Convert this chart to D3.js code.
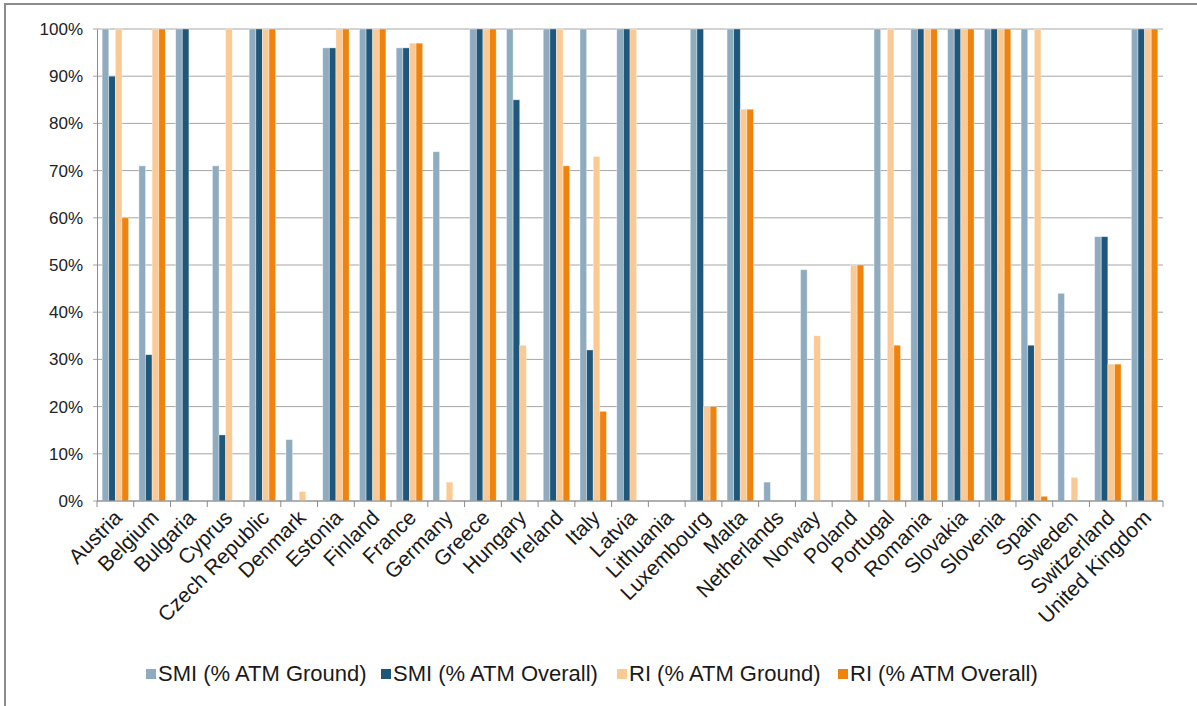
<!DOCTYPE html>
<html>
<head>
<meta charset="utf-8">
<script src="https://cdn.jsdelivr.net/npm/d3@7"></script>
<style>
  html, body { margin: 0; padding: 0; background: #fff; }
  svg { display: block; font-family: "Liberation Sans", Arial, sans-serif; }
</style>
</head>
<body>
<svg id="chart" width="1197" height="706"></svg>
<script>
// Countries shown on the x axis
const countries = ["Austria", "Belgium", "Bulgaria", "Cyprus", "Czech Republic", "Denmark",
  "Estonia", "Finland", "France", "Germany", "Greece", "Hungary", "Ireland", "Italy",
  "Latvia", "Lithuania", "Luxembourg", "Malta", "Netherlands", "Norway", "Poland",
  "Portugal", "Romania", "Slovakia", "Slovenia", "Spain", "Sweden", "Switzerland",
  "United Kingdom"];

// Series names (legend order)
const seriesNames = ["SMI (% ATM Ground)", "SMI (% ATM Overall)", "RI (% ATM Ground)", "RI (% ATM Overall)"];

// Values in percent, one entry per country
const smiGround  = [100, 71, 100, 71, 100, 13, 96, 100, 96, 74, 100, 100, 100, 100, 100, 0, 100, 100, 4, 49, 0, 100, 100, 100, 100, 100, 44, 56, 100];
const smiOverall = [90, 31, 100, 14, 100, 0, 96, 100, 96, 0, 100, 85, 100, 32, 100, 0, 100, 100, 0, 0, 0, 0, 100, 100, 100, 33, 0, 56, 100];
const riGround   = [100, 100, 0, 100, 100, 2, 100, 100, 97, 4, 100, 33, 100, 73, 100, 0, 20, 83, 0, 35, 50, 100, 100, 100, 100, 100, 5, 29, 100];
const riOverall  = [60, 100, 0, 0, 100, 0, 100, 100, 97, 0, 100, 0, 71, 19, 0, 0, 20, 83, 0, 0, 50, 33, 100, 100, 100, 1, 0, 29, 100];

// Y axis ticks
const yTicks = [0, 10, 20, 30, 40, 50, 60, 70, 80, 90, 100];

const colors = ["#8eabbf", "#1f577a", "#fbc994", "#f0820e"];
const seriesValues = [smiGround, smiOverall, riGround, riOverall];

const svg = d3.select("#chart");
const margin = { left: 97, right: 34, top: 29, bottom: 205 };
const W = 1197, H = 706;
const plotW = W - margin.left - margin.right;
const plotH = H - margin.top - margin.bottom;

// Outer frame (top and left edges visible)
svg.append("rect")
  .attr("x", 5).attr("y", 4)
  .attr("width", W + 10).attr("height", H + 10)
  .attr("fill", "none").attr("stroke", "#8c8c8c").attr("stroke-width", 2);

const g = svg.append("g").attr("transform", `translate(${margin.left},${margin.top})`);

const x = d3.scaleBand().domain(countries).range([0, plotW]).paddingInner(0).paddingOuter(0);
const x1 = d3.scaleBand().domain(seriesNames).range([0, x.bandwidth()]).paddingInner(0).paddingOuter(0.78);
const y = d3.scaleLinear().domain([0, 100]).range([plotH, 0]);

// Gridlines
g.append("g")
  .selectAll("line")
  .data(yTicks)
  .join("line")
  .attr("x1", -4).attr("x2", plotW)
  .attr("y1", d => y(d)).attr("y2", d => y(d))
  .attr("stroke", "#a6a6a6").attr("stroke-width", 1);

// Y axis labels
const yAxis = g.append("g").call(d3.axisLeft(y).tickValues(yTicks).tickFormat(d => d + "%").tickSize(0).tickPadding(14));
yAxis.select(".domain").attr("stroke", "#8c8c8c");
yAxis.selectAll("text").attr("font-size", 17).attr("fill", "#222").attr("font-family", "Liberation Sans, Arial, sans-serif");

// Bars
const groups = g.append("g").selectAll("g")
  .data(countries)
  .join("g")
  .attr("transform", d => `translate(${x(d)},0)`);

groups.selectAll("rect")
  .data((c, i) => seriesNames.map((s, k) => ({ s, k, v: seriesValues[k][i] })))
  .join("rect")
  .filter(d => d.v > 0)
  .attr("x", d => x1(d.s))
  .attr("y", d => y(d.v))
  .attr("width", x1.bandwidth())
  .attr("height", d => y(0) - y(d.v))
  .attr("fill", d => colors[d.k])
  .attr("stroke", "rgba(255,255,255,0.45)")
  .attr("stroke-width", 0.8);

// X axis
const xAxisG = g.append("g").attr("transform", `translate(0,${plotH})`);
xAxisG.append("line")
  .attr("x1", 0).attr("x2", plotW).attr("y1", 0).attr("y2", 0)
  .attr("stroke", "#8c8c8c").attr("stroke-width", 1);
xAxisG.selectAll("line.tick")
  .data(countries.concat(["__end"]))
  .join("line")
  .attr("class", "tick")
  .attr("x1", (d, i) => i * x.bandwidth()).attr("x2", (d, i) => i * x.bandwidth())
  .attr("y1", 0).attr("y2", 6)
  .attr("stroke", "#8c8c8c");

xAxisG.selectAll("text")
  .data(countries)
  .join("text")
  .attr("transform", d => `translate(${x(d) + x.bandwidth() / 2 + 8},${18}) rotate(-45)`)
  .attr("text-anchor", "end")
  .attr("font-size", 21)
  .attr("fill", "#1a1a1a")
  .text(d => d);

// Legend
const legendX = [146, 381, 617, 838];
const legend = svg.append("g").selectAll("g")
  .data(seriesNames)
  .join("g")
  .attr("transform", (d, i) => `translate(${legendX[i]},669)`);
legend.append("rect")
  .attr("width", 10).attr("height", 10)
  .attr("fill", (d, i) => colors[i]);
legend.append("text")
  .attr("x", 12).attr("y", 12)
  .attr("font-size", 22)
  .attr("fill", "#1a1a1a")
  .text(d => d);
</script>
</body>
</html>
